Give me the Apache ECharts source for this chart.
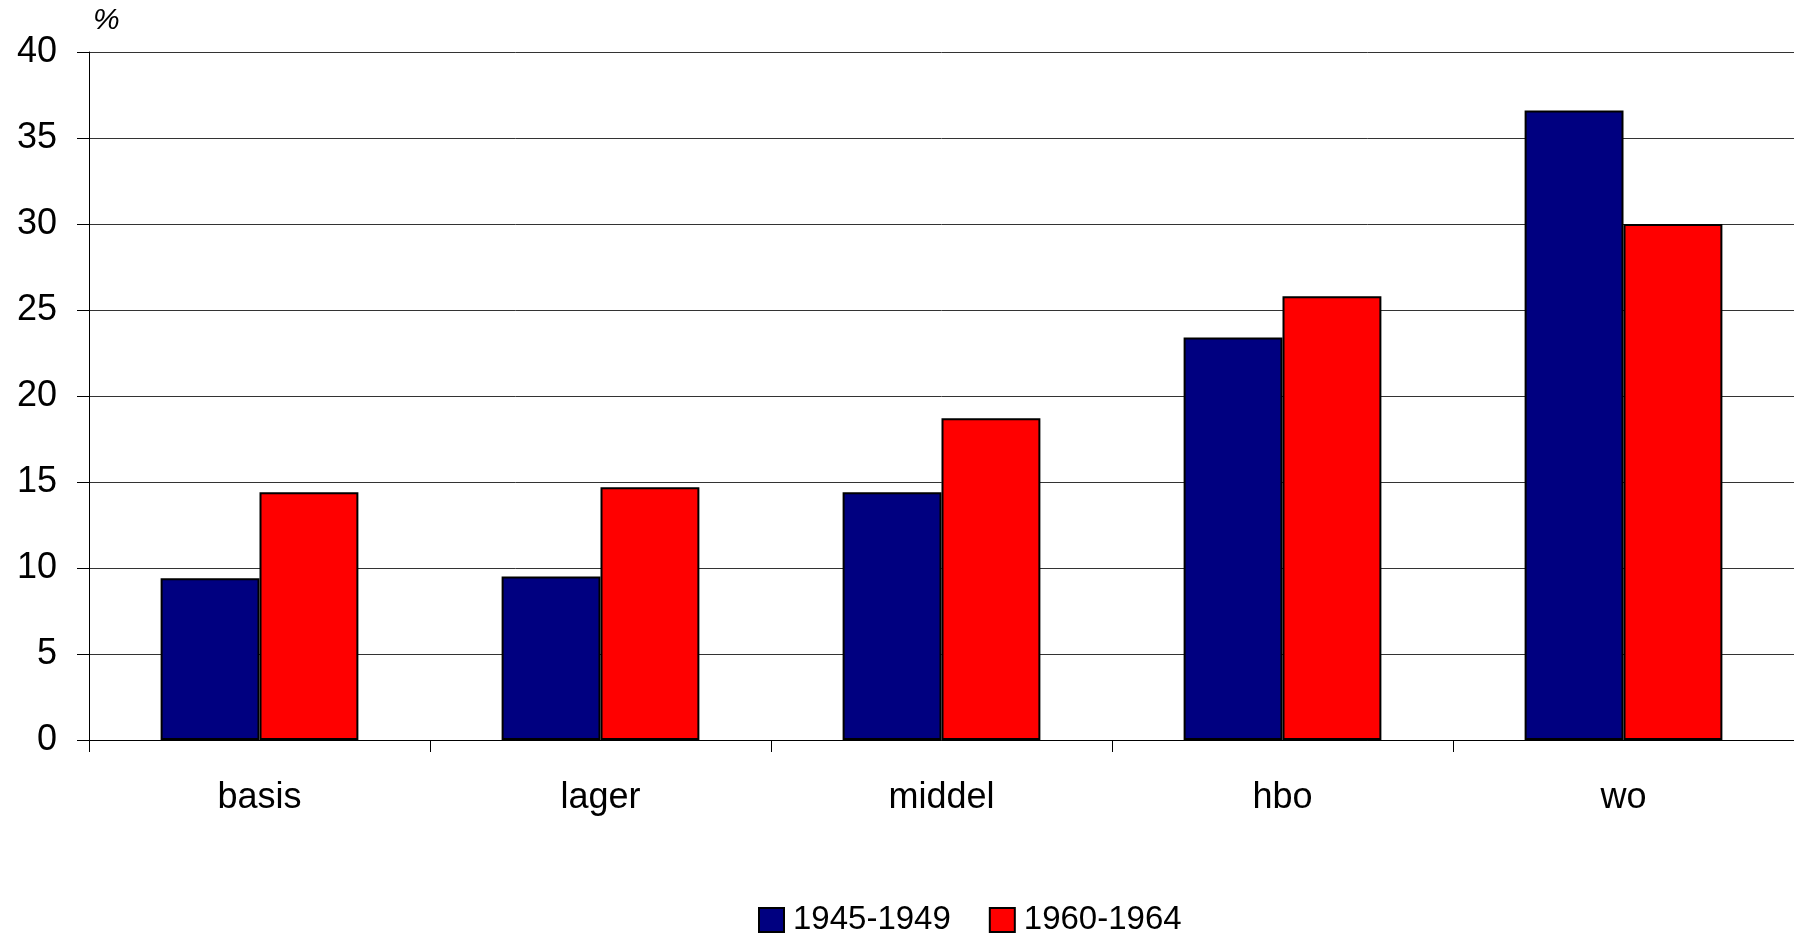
<!DOCTYPE html>
<html>
<head>
<meta charset="utf-8">
<script src="https://cdn.jsdelivr.net/npm/echarts@6/dist/echarts.min.js"></script>
<style>
  html, body { margin: 0; padding: 0; background: #fff; }
  #chart { width: 1794px; height: 935px; }
</style>
</head>
<body>
<div id="chart"></div>
<script>
// categorieen en waarden (%)
const categories = ["basis", "lager", "middel", "hbo", "wo"];
const cohort1945 = [9.4, 9.5, 14.4, 23.4, 36.6];
const cohort1960 = [14.4, 14.7, 18.7, 25.8, 30.0];
const seriesNames = ["1945-1949", "1960-1964"];
const yTicks = { min: 0, max: 40, interval: 5 };

const chart = echarts.init(document.getElementById("chart"));
const font = "Liberation Sans, Arial, sans-serif";

const option = {
  animation: false,
  textStyle: { fontFamily: font },
  title: {
    text: "%",
    left: 93,
    top: 6,
    padding: 0,
    textStyle: { fontFamily: font, fontStyle: "italic", fontWeight: "normal", fontSize: 30, color: "#000" },
  },
  grid: { left: 89, right: 0, top: 52, bottom: 195 },
  legend: {
    data: seriesNames,
    left: 758,
    top: 903,
    padding: 0,
    itemWidth: 25,
    itemHeight: 24,
    itemGap: 38,
    icon: "rect",
    textStyle: { fontFamily: font, fontSize: 33, lineHeight: 34, color: "#000", padding: [0, 0, 0, 4] },
  },
  xAxis: {
    type: "category",
    data: categories,
    axisLine: { lineStyle: { color: "#000", width: 1 } },
    axisTick: { show: true, length: 12, lineStyle: { color: "#000" } },
    axisLabel: { fontFamily: font, fontSize: 36, color: "#000", margin: 40 },
  },
  yAxis: {
    type: "value",
    min: yTicks.min,
    max: yTicks.max,
    interval: yTicks.interval,
    axisLine: { show: true, lineStyle: { color: "#000", width: 1 } },
    axisTick: { show: true, length: 12, lineStyle: { color: "#000" } },
    axisLabel: { fontFamily: font, fontSize: 36, color: "#000", margin: 32 },
    splitLine: { show: true, lineStyle: { color: "#333", width: 1 } },
  },
  series: [
    {
      name: seriesNames[0],
      type: "bar",
      data: cohort1945,
      barWidth: "29%",
      barGap: "0%",
      itemStyle: { color: "#000080", borderColor: "#000", borderWidth: 2 },
    },
    {
      name: seriesNames[1],
      type: "bar",
      data: cohort1960,
      barWidth: "29%",
      barGap: "0%",
      itemStyle: { color: "#ff0000", borderColor: "#000", borderWidth: 2 },
    },
  ],
};
chart.setOption(option);
</script>
</body>
</html>
